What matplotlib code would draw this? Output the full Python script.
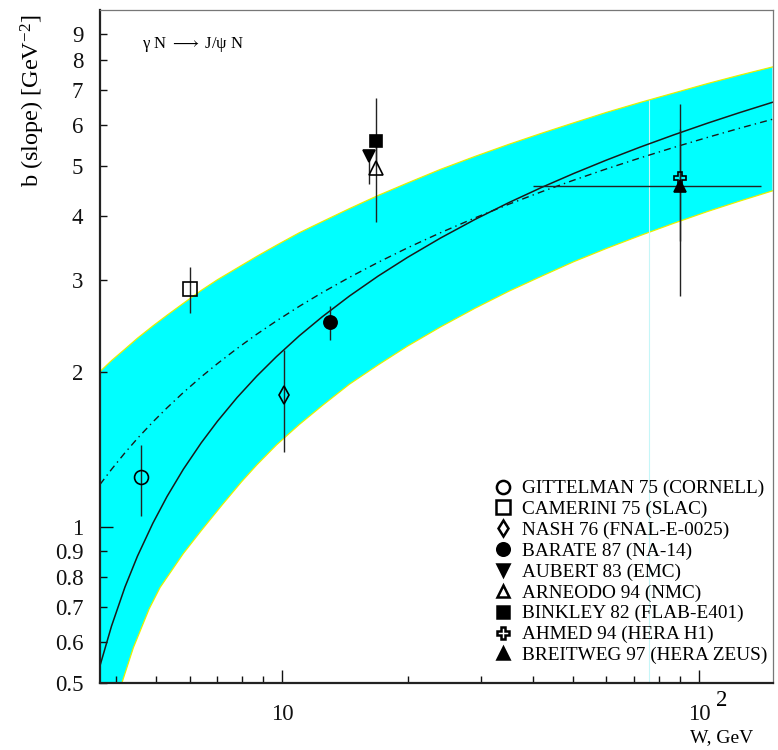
import matplotlib
matplotlib.use("Agg")
import matplotlib.pyplot as plt
from matplotlib.lines import Line2D
from matplotlib.ticker import FixedLocator, FixedFormatter, NullFormatter

plt.rcParams['font.family'] = ['Liberation Serif', 'DejaVu Serif']
plt.rcParams['mathtext.fontset'] = 'custom'
plt.rcParams['mathtext.rm'] = 'Liberation Serif'
plt.rcParams['mathtext.it'] = 'Liberation Serif:italic'

# ---------------- data ----------------
curve_w = [3.66, 3.9, 4.2, 4.5, 4.9, 5.3, 5.8, 6.4, 7.0, 7.8, 8.7, 9.7, 11, 12.5,
           14.5, 17, 20, 24, 29, 35, 42, 50, 60, 72, 87, 105, 125, 150]

# band (cyan) upper edge
band_up_b = [2.0, 2.10, 2.21, 2.32, 2.45, 2.57, 2.71, 2.87, 3.01, 3.17, 3.34, 3.51,
             3.71, 3.90, 4.13, 4.38, 4.63, 4.92, 5.21, 5.50, 5.78, 6.05, 6.34, 6.62,
             6.91, 7.21, 7.48, 7.76]

# band lower edge
band_lo_w = [4.13, 4.4, 4.8, 5.1, 5.8, 6.4, 7.22, 8.0, 8.7, 9.7, 11, 12.5, 14.5, 17,
             20, 24, 29, 35, 42, 50, 60, 72, 87, 105, 125, 150]
band_lo_b = [0.5, 0.585, 0.695, 0.765, 0.89, 0.985, 1.11, 1.225, 1.32, 1.443, 1.58,
             1.72, 1.89, 2.06, 2.24, 2.44, 2.65, 2.86, 3.06, 3.26, 3.46, 3.66, 3.87,
             4.08, 4.27, 4.47]

# solid curve
solid_b = [0.54, 0.644, 0.766, 0.879, 1.018, 1.147, 1.295, 1.456, 1.603, 1.781, 1.960,
           2.138, 2.345, 2.554, 2.798, 3.059, 3.325, 3.624, 3.935, 4.243, 4.542, 4.828,
           5.127, 5.426, 5.736, 6.045, 6.331, 6.630]

# dash-dot curve
dd_b = [1.21, 1.294, 1.393, 1.485, 1.598, 1.702, 1.822, 1.953, 2.072, 2.216, 2.362,
        2.506, 2.674, 2.844, 3.041, 3.252, 3.469, 3.711, 3.963, 4.213, 4.455, 4.687,
        4.930, 5.172, 5.424, 5.674, 5.906, 6.148]

# faint vertical artifact line
artifact_w = 76
artifact_top = 6.7

# experiments
labels = ["GITTELMAN 75 (CORNELL)", "CAMERINI 75 (SLAC)", "NASH 76 (FNAL-E-0025)",
          "BARATE 87 (NA-14)", "AUBERT 83 (EMC)", "ARNEODO 94 (NMC)",
          "BINKLEY 82 (FLAB-E401)", "AHMED 94 (HERA H1)", "BREITWEG 97 (HERA ZEUS)"]
pt_w = [4.59, 6.0, 10.1, 13.0, 16.2, 16.8, 16.8, 90.3, 90.3]
pt_b = [1.25, 2.89, 1.80, 2.49, 5.23, 4.96, 5.59, 4.73, 4.57]
err_lo = [0.20, 0.30, 0.40, 0.19, 0.62, 1.06, 0.60, 1.15, 1.77]
err_hi = [0.19, 0.30, 0.40, 0.19, 0.05, 0.80, 1.17, 1.15, 2.01]
w_lo = [None, None, None, None, None, None, None, None, 40.0]
w_hi = [None, None, None, None, None, None, None, None, 140.7]

markers = ['o', 's', 'd', 'o', 'v', '^', 's', 'P', '^']
filled = [False, False, False, True, True, False, True, False, True]
msizes = [10, 10, 9, 9.5, 9, 9.5, 9, 9, 9]

# ---------------- figure ----------------
fig = plt.figure(figsize=(7.78, 7.5), dpi=100)
ax = fig.add_axes([100/778, 1-683/750, 673/778, 673/750])
ax.set_xscale('log')
ax.set_yscale('log')
ax.set_xlim(3.66, 150.5)
ax.set_ylim(0.5, 10)

# band
poly_w = list(curve_w) + list(band_lo_w[::-1]) + [curve_w[0]]
poly_b = list(band_up_b) + list(band_lo_b[::-1]) + [band_lo_b[0]]
ax.fill(poly_w, poly_b, color='#00FFFF', lw=0, zorder=1)
ax.plot(curve_w, band_up_b, color='#E8F000', lw=0.9, zorder=1.5)
ax.plot(band_lo_w, band_lo_b, color='#E8F000', lw=0.9, zorder=1.5)

ax.vlines(artifact_w, 0.5, artifact_top, color='#c6f6f8', lw=0.8, zorder=1.6)

ax.plot(curve_w, solid_b, color='#1a1a1a', lw=1.1, zorder=2)
ax.plot(curve_w, dd_b, color='#1a1a1a', lw=1.0, ls=(0, (5, 3, 1, 3)), zorder=2)

handles = []
for i in range(len(labels)):
    xerr = None
    if w_lo[i] is not None:
        xerr = [[pt_w[i] - w_lo[i]], [w_hi[i] - pt_w[i]]]
    ax.errorbar([pt_w[i]], [pt_b[i]], yerr=[[err_lo[i]], [err_hi[i]]], xerr=xerr,
                fmt='none', ecolor='#222222', elinewidth=1.0, capsize=0, zorder=3)
    mfc = 'black' if filled[i] else 'none'
    ax.plot([pt_w[i]], [pt_b[i]], marker=markers[i], ms=msizes[i], mfc=mfc,
            mec='black', mew=1.2, ls='none', zorder=4)
    handles.append(Line2D([], [], marker=markers[i], ms=msizes[i] * 0.95, mfc=mfc,
                          mec='black', mew=1.8, ls='none'))

leg = ax.legend(handles, labels, loc='upper left', bbox_to_anchor=(0.587, 0.302),
                frameon=False, fontsize=13.9, handlelength=0.8, handletextpad=0.585,
                labelspacing=0.17, borderpad=0, borderaxespad=0)

# ticks
ax.xaxis.set_major_locator(FixedLocator([10, 100]))
ax.xaxis.set_major_formatter(FixedFormatter(['10', '10']))
ax.xaxis.set_minor_locator(FixedLocator([4, 5, 6, 7, 8, 9, 20, 30, 40, 50, 60, 70, 80, 90]))
ax.xaxis.set_minor_formatter(NullFormatter())

ymin_ticks = [0.5, 0.6, 0.7, 0.8, 0.9, 2, 3, 4, 5, 6, 7, 8, 9]
ax.yaxis.set_major_locator(FixedLocator([1]))
ax.yaxis.set_major_formatter(FixedFormatter(['1']))
ax.yaxis.set_minor_locator(FixedLocator(ymin_ticks))
ax.yaxis.set_minor_formatter(FixedFormatter([('%g' % v) for v in ymin_ticks]))

ax.tick_params(which='both', direction='in', labelsize=16.5, top=False, right=False,
               colors='#111111', width=1.0)
ax.tick_params(which='major', length=9.5)
ax.tick_params(which='minor', length=5)
ax.tick_params(axis='x', which='both', pad=15)
ax.tick_params(axis='y', which='both', pad=12)

for s in ['left', 'bottom']:
    ax.spines[s].set_linewidth(1.6)
    ax.spines[s].set_color('#222222')
for s in ['top', 'right']:
    ax.spines[s].set_linewidth(0.9)
    ax.spines[s].set_color('#777777')

# superscript "2" for 10^2
ax.annotate('2', xy=(100, 0), xycoords=ax.get_xaxis_transform(), xytext=(16.5, -12.5),
            textcoords='offset points', fontsize=16.5, ha='center', va='center')

ax.set_ylabel('b (slope) [GeV$^{-2}$]', fontsize=17.5)
ax.yaxis.set_label_coords(-0.079, 0.865)

ax.text(0.062, 0.948, 'γ N $\\longrightarrow$ J/ψ N', transform=ax.transAxes, fontsize=12,
        ha='left', va='center')
fig.text(0.927, 0.016, 'W, GeV', fontsize=14, ha='center', va='center')

fig.savefig('out.png', dpi=100)
